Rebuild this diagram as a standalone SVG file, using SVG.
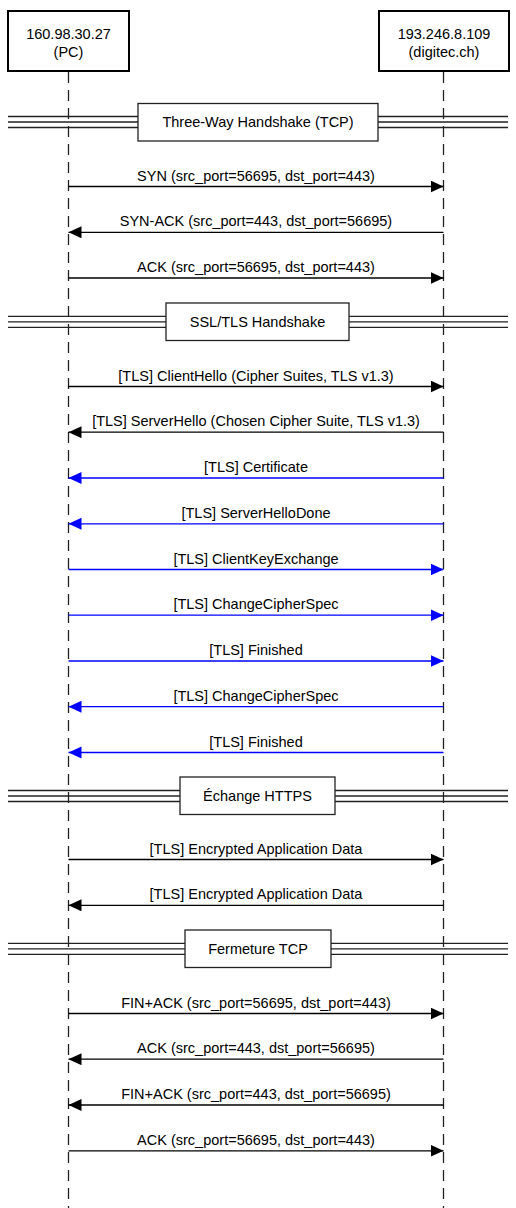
<svg xmlns="http://www.w3.org/2000/svg" width="516" height="1208" viewBox="0 0 516 1208">
<style>
text{font-family:"Liberation Sans",Arial,sans-serif;font-size:14.5px;fill:#000;text-anchor:middle}
.actor{fill:#fff;stroke:#000;stroke-width:2}
.life{stroke:#222;stroke-width:1.3;stroke-dasharray:11 7;fill:none}
.sep{stroke:#222;stroke-width:1.3}
.sbox{fill:#fff;stroke:#222;stroke-width:1.3}
.msg{stroke:#000;stroke-width:1.3;fill:none;marker-end:url(#ah)}
.tls{stroke:#0000ff;stroke-width:1.3;fill:none;marker-end:url(#ahb)}
</style>
<defs>
<marker id="ah" markerUnits="userSpaceOnUse" markerWidth="14" markerHeight="13" refX="13" refY="6" orient="auto"><path d="M0,0 L13,6 L0,12 z" fill="#000"/></marker>
<marker id="ahb" markerUnits="userSpaceOnUse" markerWidth="14" markerHeight="13" refX="13" refY="6" orient="auto"><path d="M0,0 L13,6 L0,12 z" fill="#0000ff"/></marker>
</defs>
<rect width="516" height="1208" fill="#fff"/>
<g id="lifelines">
<line class="life" x1="68.5" y1="72" x2="68.5" y2="1208"/>
<line class="life" x1="443.5" y1="72" x2="443.5" y2="1208"/>
</g>
<g id="pc">
<rect class="actor" x="8" y="11" width="121" height="60"/>
<text x="68.5" y="39">160.98.30.27</text>
<text x="68.5" y="57">(PC)</text>
</g>
<g id="server">
<rect class="actor" x="379" y="11" width="130" height="60"/>
<text x="444" y="39">193.246.8.109</text>
<text x="444" y="57">(digitec.ch)</text>
</g>
<g id="sec-tcp">
<line class="sep" x1="8" y1="116.5" x2="508" y2="116.5"/><line class="sep" x1="8" y1="122" x2="508" y2="122"/><line class="sep" x1="8" y1="127.5" x2="508" y2="127.5"/>
<rect class="sbox" x="138" y="103.5" width="240" height="37.5"/>
<text x="258" y="127.2">Three-Way Handshake (TCP)</text>
</g>
<g id="sec-tls">
<line class="sep" x1="8" y1="316.3" x2="508" y2="316.3"/><line class="sep" x1="8" y1="321.8" x2="508" y2="321.8"/><line class="sep" x1="8" y1="327.3" x2="508" y2="327.3"/>
<rect class="sbox" x="166" y="303" width="183" height="37.5"/>
<text x="257.5" y="327">SSL/TLS Handshake</text>
</g>
<g id="sec-https">
<line class="sep" x1="8" y1="790.5" x2="508" y2="790.5"/><line class="sep" x1="8" y1="796" x2="508" y2="796"/><line class="sep" x1="8" y1="801.5" x2="508" y2="801.5"/>
<rect class="sbox" x="180" y="777" width="155" height="37.5"/>
<text x="257.5" y="801.2">Échange HTTPS</text>
</g>
<g id="sec-close">
<line class="sep" x1="8" y1="943.3" x2="508" y2="943.3"/><line class="sep" x1="8" y1="948.8" x2="508" y2="948.8"/><line class="sep" x1="8" y1="954.3" x2="508" y2="954.3"/>
<rect class="sbox" x="185" y="930" width="146" height="37.5"/>
<text x="258" y="954">Fermeture TCP</text>
</g>
<g id="connectors">
<line class="msg" x1="68.5" y1="186.5" x2="443.5" y2="186.5"/><text x="256" y="180.5">SYN (src_port=56695, dst_port=443)</text>
<line class="msg" x1="443.5" y1="232.3" x2="68.5" y2="232.3"/><text x="256" y="226.3">SYN-ACK (src_port=443, dst_port=56695)</text>
<line class="msg" x1="68.5" y1="278" x2="443.5" y2="278"/><text x="256" y="272">ACK (src_port=56695, dst_port=443)</text>
<line class="msg" x1="68.5" y1="386.5" x2="443.5" y2="386.5"/><text x="256" y="380.5">[TLS] ClientHello (Cipher Suites, TLS v1.3)</text>
<line class="msg" x1="443.5" y1="432.2" x2="68.5" y2="432.2"/><text x="256" y="426.2">[TLS] ServerHello (Chosen Cipher Suite, TLS v1.3)</text>
<line class="tls" x1="443.5" y1="478" x2="68.5" y2="478"/><text x="256" y="472">[TLS] Certificate</text>
<line class="tls" x1="443.5" y1="523.8" x2="68.5" y2="523.8"/><text x="256" y="517.8">[TLS] ServerHelloDone</text>
<line class="tls" x1="68.5" y1="569.5" x2="443.5" y2="569.5"/><text x="256" y="563.5">[TLS] ClientKeyExchange</text>
<line class="tls" x1="68.5" y1="615.2" x2="443.5" y2="615.2"/><text x="256" y="609.2">[TLS] ChangeCipherSpec</text>
<line class="tls" x1="68.5" y1="661" x2="443.5" y2="661"/><text x="256" y="655">[TLS] Finished</text>
<line class="tls" x1="443.5" y1="706.7" x2="68.5" y2="706.7"/><text x="256" y="700.7">[TLS] ChangeCipherSpec</text>
<line class="tls" x1="443.5" y1="752.5" x2="68.5" y2="752.5"/><text x="256" y="746.5">[TLS] Finished</text>
<line class="msg" x1="68.5" y1="859.5" x2="443.5" y2="859.5"/><text x="256" y="853.5">[TLS] Encrypted Application Data</text>
<line class="msg" x1="443.5" y1="905.3" x2="68.5" y2="905.3"/><text x="256" y="899.3">[TLS] Encrypted Application Data</text>
<line class="msg" x1="68.5" y1="1013.5" x2="443.5" y2="1013.5"/><text x="256" y="1007.5">FIN+ACK (src_port=56695, dst_port=443)</text>
<line class="msg" x1="443.5" y1="1059.2" x2="68.5" y2="1059.2"/><text x="256" y="1053.2">ACK (src_port=443, dst_port=56695)</text>
<line class="msg" x1="443.5" y1="1105" x2="68.5" y2="1105"/><text x="256" y="1099">FIN+ACK (src_port=443, dst_port=56695)</text>
<line class="msg" x1="68.5" y1="1150.8" x2="443.5" y2="1150.8"/><text x="256" y="1144.8">ACK (src_port=56695, dst_port=443)</text>
</g>
</svg>
